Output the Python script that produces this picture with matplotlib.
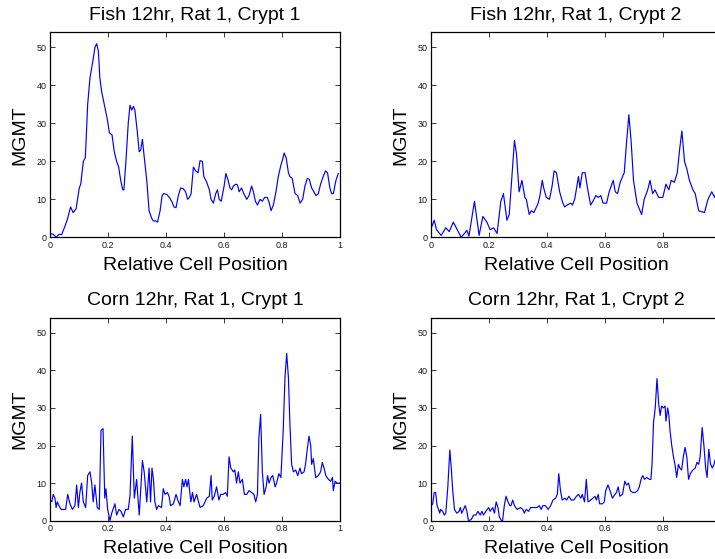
import matplotlib
matplotlib.use("Agg")
import matplotlib.pyplot as plt

plt.rcParams['font.family'] = ['Liberation Sans', 'DejaVu Sans']

# ---------------- data ----------------
titles = ["Fish 12hr, Rat 1, Crypt 1", "Fish 12hr, Rat 1, Crypt 2",
          "Corn 12hr, Rat 1, Crypt 1", "Corn 12hr, Rat 1, Crypt 2"]
xlabel_text = "Relative Cell Position"
ylabel_text = "MGMT"
xticks = [0, 0.2, 0.4, 0.6, 0.8, 1.0]
xticklabels = ["0", "0.2", "0.4", "0.6", "0.8", "1"]
yticks = [0, 10, 20, 30, 40, 50]

fish1_x = [0.0, 0.01, 0.02, 0.03, 0.039, 0.051, 0.06, 0.07, 0.079, 0.089, 0.1, 0.105,
           0.114, 0.121, 0.129, 0.137, 0.146, 0.154, 0.16, 0.166, 0.171, 0.177, 0.189,
           0.197, 0.204, 0.213, 0.221, 0.229, 0.236, 0.243, 0.25, 0.254, 0.261, 0.269,
           0.275, 0.281, 0.287, 0.292, 0.3, 0.307, 0.312, 0.318, 0.323, 0.333, 0.341,
           0.35, 0.356, 0.365, 0.37, 0.379, 0.386, 0.392, 0.402, 0.411, 0.419, 0.427,
           0.434, 0.442, 0.45, 0.459, 0.467, 0.474, 0.48, 0.486, 0.494, 0.502, 0.51,
           0.517, 0.525, 0.53, 0.54, 0.549, 0.555, 0.563, 0.571, 0.577, 0.583, 0.59,
           0.6, 0.606, 0.614, 0.62, 0.626, 0.632, 0.64, 0.646, 0.652, 0.66, 0.668,
           0.678, 0.686, 0.695, 0.701, 0.708, 0.715, 0.724, 0.732, 0.74, 0.749, 0.756,
           0.762, 0.77, 0.779, 0.787, 0.796, 0.802, 0.807, 0.814, 0.822, 0.827, 0.835,
           0.845, 0.854, 0.862, 0.871, 0.879, 0.887, 0.894, 0.902, 0.91, 0.917, 0.925,
           0.933, 0.942, 0.95, 0.957, 0.965, 0.971, 0.977, 0.986, 0.994]
fish1_y = [1.0, 0.8, 0.0, 0.8, 0.7, 3.0, 5.0, 8.0, 6.5, 7.5, 13.0, 14.0,
           20.0, 21.0, 35.0, 42.0, 46.0, 50.0, 51.0, 49.0, 42.0, 38.5, 34.0,
           31.0, 27.5, 27.0, 22.5, 20.0, 18.5, 15.0, 12.5, 12.5, 20.0, 30.0,
           34.8, 33.5, 34.5, 33.5, 28.0, 22.5, 23.0, 25.8, 22.0, 15.0, 7.0,
           5.0, 4.3, 4.3, 4.0, 7.0, 11.0, 11.5, 11.3, 10.5, 9.5, 8.0,
           7.8, 11.0, 13.0, 12.8, 12.0, 10.0, 10.5, 11.5, 18.5, 17.5, 17.0,
           20.2, 20.0, 16.0, 14.5, 12.5, 10.0, 9.0, 11.5, 12.5, 10.0, 9.5,
           13.5, 16.8, 15.0, 13.0, 12.5, 13.5, 14.0, 13.8, 12.0, 13.0, 11.5,
           10.0, 11.0, 13.5, 12.0, 9.5, 8.5, 10.0, 9.5, 10.5, 10.5, 9.0,
           7.0, 8.5, 12.0, 16.0, 19.0, 20.5, 22.2, 21.0, 17.0, 16.0, 15.5,
           11.5, 11.0, 9.0, 10.0, 13.5, 15.5, 15.3, 13.0, 12.0, 11.0, 11.5,
           14.0, 16.0, 17.5, 17.0, 13.0, 11.5, 11.5, 15.0, 16.8]

fish2_x = [0.0, 0.01, 0.018, 0.034, 0.05, 0.062, 0.076, 0.103, 0.123, 0.13, 0.149,
           0.165, 0.178, 0.192, 0.203, 0.215, 0.227, 0.24, 0.249, 0.261, 0.269, 0.287,
           0.294, 0.303, 0.313, 0.323, 0.328, 0.338, 0.345, 0.354, 0.369, 0.375, 0.383,
           0.388, 0.397, 0.408, 0.417, 0.424, 0.432, 0.443, 0.452, 0.46, 0.469, 0.481,
           0.487, 0.495, 0.508, 0.513, 0.521, 0.531, 0.539, 0.55, 0.558, 0.568, 0.576,
           0.585, 0.593, 0.605, 0.614, 0.628, 0.635, 0.643, 0.652, 0.666, 0.674, 0.682,
           0.69, 0.698, 0.71, 0.718, 0.726, 0.735, 0.747, 0.755, 0.764, 0.772, 0.785,
           0.799, 0.81, 0.82, 0.828, 0.839, 0.849, 0.857, 0.865, 0.874, 0.882, 0.891,
           0.903, 0.911, 0.923, 0.943, 0.955, 0.968, 0.978, 0.984, 0.992, 1.0]
fish2_y = [2.5, 4.5, 2.0, 0.5, 2.5, 1.5, 4.0, 0.0, 1.8, 0.3, 9.5,
           0.5, 5.5, 4.0, 2.0, 2.5, 1.0, 9.5, 11.5, 4.5, 6.0, 25.5,
           22.0, 12.0, 15.0, 10.5, 10.0, 6.0, 7.0, 6.5, 9.0, 11.0, 15.0,
           13.0, 10.5, 10.0, 13.5, 17.5, 17.0, 12.0, 9.5, 8.0, 8.5, 9.0,
           8.5, 10.0, 16.0, 13.0, 17.0, 17.0, 13.0, 8.5, 9.5, 11.0, 10.5,
           11.0, 9.0, 9.0, 12.0, 15.0, 12.0, 11.5, 14.5, 17.0, 25.0, 32.3,
           25.0, 15.0, 9.0, 7.5, 6.0, 10.0, 12.5, 15.0, 11.5, 12.5, 10.5,
           10.5, 14.0, 12.5, 15.0, 14.5, 17.0, 23.0, 28.0, 20.0, 18.0, 15.0,
           12.5, 11.5, 7.0, 6.5, 10.0, 12.0, 10.5, 12.0, 11.0, 12.0]

corn1_x = [0.0, 0.005, 0.01, 0.016, 0.02, 0.024, 0.03, 0.037, 0.048, 0.053, 0.06,
           0.068, 0.076, 0.085, 0.091, 0.097, 0.102, 0.108, 0.114, 0.122, 0.129,
           0.137, 0.143, 0.148, 0.154, 0.162, 0.169, 0.175, 0.182, 0.188, 0.192,
           0.198, 0.206, 0.212, 0.223, 0.229, 0.237, 0.244, 0.252, 0.26, 0.269,
           0.275, 0.283, 0.29, 0.298, 0.307, 0.318, 0.324, 0.333, 0.341, 0.346,
           0.351, 0.356, 0.361, 0.367, 0.373, 0.384, 0.39, 0.396, 0.404, 0.41,
           0.415, 0.425, 0.434, 0.44, 0.448, 0.456, 0.461, 0.467, 0.472, 0.477,
           0.485, 0.491, 0.496, 0.505, 0.517, 0.528, 0.54, 0.549, 0.555, 0.559,
           0.566, 0.574, 0.582, 0.588, 0.597, 0.605, 0.611, 0.617, 0.623, 0.632,
           0.637, 0.643, 0.649, 0.655, 0.663, 0.67, 0.678, 0.686, 0.695, 0.703,
           0.709, 0.715, 0.72, 0.726, 0.732, 0.738, 0.745, 0.75, 0.755, 0.762,
           0.768, 0.776, 0.781, 0.789, 0.796, 0.804, 0.81, 0.816, 0.822, 0.827,
           0.833, 0.839, 0.847, 0.854, 0.862, 0.867, 0.876, 0.881, 0.887, 0.893,
           0.899, 0.902, 0.908, 0.916, 0.925, 0.933, 0.939, 0.945, 0.951, 0.96,
           0.968, 0.974, 0.977, 0.983, 0.989, 0.998]
corn1_y = [5.5, 5.0, 7.0, 6.0, 3.5, 5.0, 4.0, 3.0, 3.0, 3.0, 7.0,
           4.5, 3.0, 4.0, 9.5, 3.5, 7.5, 10.0, 5.0, 3.5, 12.0,
           13.0, 10.0, 5.0, 9.5, 3.5, 3.0, 24.0, 24.5, 6.0, 8.5,
           3.0, 0.0, 2.0, 4.5, 1.5, 3.0, 2.5, 1.0, 3.0, 3.0,
           6.5, 22.5, 6.0, 11.0, 1.5, 16.0, 13.0, 5.0, 14.0, 5.0,
           14.0, 11.0, 5.0, 3.0, 4.0, 3.5, 8.5, 7.0, 7.5, 6.5,
           4.0, 4.5, 7.0, 5.5, 4.0, 11.0, 9.0, 11.0, 9.0, 11.0,
           5.0, 7.5, 5.0, 7.0, 3.5, 4.0, 6.0, 6.5, 12.0, 5.5,
           6.5, 9.0, 5.5, 7.0, 7.0, 7.5, 6.5, 17.0, 14.0, 13.0,
           13.5, 10.0, 13.0, 10.0, 11.0, 7.0, 7.0, 8.0, 7.5, 7.0,
           5.0, 7.0, 22.0, 28.3, 13.0, 7.0, 9.0, 12.0, 10.0, 11.5,
           12.0, 9.0, 10.0, 12.5, 11.5, 24.0, 38.0, 44.5, 38.0, 26.0,
           15.0, 13.0, 13.5, 12.0, 14.0, 12.5, 13.0, 15.0, 19.0, 22.5,
           20.0, 15.0, 16.5, 11.5, 12.0, 13.0, 15.5, 14.0, 12.0, 11.0,
           10.5, 11.5, 8.0, 10.5, 10.0, 10.0]

corn2_x = [0.0, 0.005, 0.01, 0.015, 0.02, 0.025, 0.029, 0.032, 0.039, 0.045, 0.05,
           0.057, 0.064, 0.069, 0.074, 0.08, 0.088, 0.096, 0.1, 0.105, 0.111,
           0.117, 0.123, 0.128, 0.138, 0.146, 0.154, 0.161, 0.169, 0.175, 0.18,
           0.188, 0.198, 0.203, 0.212, 0.218, 0.224, 0.23, 0.235, 0.242, 0.246,
           0.252, 0.258, 0.265, 0.271, 0.275, 0.281, 0.287, 0.296, 0.308, 0.316,
           0.321, 0.328, 0.336, 0.343, 0.354, 0.365, 0.373, 0.379, 0.385, 0.394,
           0.403, 0.412, 0.42, 0.429, 0.435, 0.44, 0.446, 0.452, 0.461, 0.467,
           0.475, 0.483, 0.492, 0.501, 0.508, 0.516, 0.521, 0.529, 0.535, 0.541,
           0.55, 0.558, 0.565, 0.57, 0.576, 0.581, 0.591, 0.597, 0.602, 0.61,
           0.617, 0.625, 0.634, 0.639, 0.645, 0.651, 0.66, 0.668, 0.674, 0.681,
           0.687, 0.695, 0.704, 0.712, 0.718, 0.724, 0.73, 0.736, 0.743, 0.753,
           0.758, 0.762, 0.767, 0.773, 0.779, 0.785, 0.79, 0.795, 0.801, 0.807,
           0.81, 0.816, 0.82, 0.824, 0.83, 0.836, 0.842, 0.847, 0.853, 0.858,
           0.864, 0.87, 0.876, 0.882, 0.888, 0.894, 0.903, 0.911, 0.917, 0.923,
           0.928, 0.935, 0.941, 0.947, 0.952, 0.958, 0.964, 0.97, 0.976, 0.981,
           0.99, 1.0]
corn2_y = [4.0, 4.5, 7.5, 7.5, 4.0, 3.0, 2.0, 3.0, 2.5, 1.5, 2.0,
           9.0, 18.8, 14.0, 8.0, 3.0, 2.0, 2.5, 3.5, 2.0, 3.0,
           4.0, 2.5, 0.0, 0.3, 1.5, 1.5, 2.5, 1.5, 2.5, 1.5,
           2.5, 3.5, 2.5, 3.5, 2.0, 5.0, 3.5, 1.0, 0.0, 0.0,
           4.0, 6.5, 5.0, 4.0, 4.0, 5.5, 4.0, 3.0, 3.5, 3.0,
           2.0, 3.0, 2.5, 3.5, 3.5, 3.5, 4.0, 3.0, 4.0, 4.0,
           3.0, 4.0, 5.5, 6.0, 7.0, 12.5, 8.0, 5.5, 6.0, 5.5,
           6.5, 5.5, 5.5, 6.5, 7.0, 6.0, 7.0, 5.0, 11.0, 5.0,
           5.5, 6.0, 6.5, 5.5, 7.0, 4.5, 4.5, 5.0, 8.0, 9.5,
           8.0, 6.0, 7.0, 7.5, 9.0, 6.5, 7.0, 10.5, 9.5, 10.0,
           8.0, 7.5, 7.5, 8.0, 9.0, 11.0, 12.0, 11.0, 11.5, 11.0,
           11.0, 15.0, 26.0, 30.0, 37.8, 31.0, 28.0, 30.5, 30.0, 30.5,
           26.5, 30.0, 28.0, 24.0, 20.0, 17.0, 14.5, 11.5, 15.0, 14.0,
           13.5, 17.0, 19.5, 17.0, 11.0, 12.5, 13.5, 14.0, 15.5, 15.0,
           17.0, 24.8, 20.0, 14.0, 11.5, 19.0, 15.0, 14.0, 15.0, 16.5,
           15.0, 14.0]

series_x = [fish1_x, fish2_x, corn1_x, corn2_x]
series_y = [fish1_y, fish2_y, corn1_y, corn2_y]

# ---------------- layout ----------------
W, H = 715, 559
fig = plt.figure(figsize=(W / 100, H / 100), dpi=100)
# axes boxes in pixels: (left, top, width, height)
boxes = [(50.3, 32.3, 289.7, 205.0), (431.3, 32.3, 289.7, 205.0),
         (50.3, 317.7, 289.7, 203.0), (431.3, 317.7, 289.7, 203.0)]

for i in range(4):
    l, t, w, h = boxes[i]
    ax = fig.add_axes([l / W, 1 - (t + h) / H, w / W, h / H])
    ax.plot(series_x[i], series_y[i], color='#0000ff', lw=0.85)
    ax.set_xlim(0, 1)
    ax.set_ylim(0, 54)
    ax.set_xticks(xticks)
    labels = list(xticklabels)
    if l + w > W:
        # the right-hand panels run past the picture edge; their last label is not visible
        labels[-1] = ""
    ax.set_xticklabels(labels)
    ax.set_yticks(yticks)
    ax.tick_params(direction='in', length=3.5, width=0.6, top=True, right=True,
                   labelsize=6.5, colors='#1a1a1a', pad=2.5)
    for sp in ax.spines.values():
        sp.set_linewidth(0.9)
        sp.set_color('black')
    ax.set_title(titles[i], fontsize=14, pad=9)
    ax.set_xlabel(xlabel_text, fontsize=14, labelpad=5)
    ax.set_ylabel(ylabel_text, fontsize=14, labelpad=6)

fig.savefig("out.png", dpi=100)
